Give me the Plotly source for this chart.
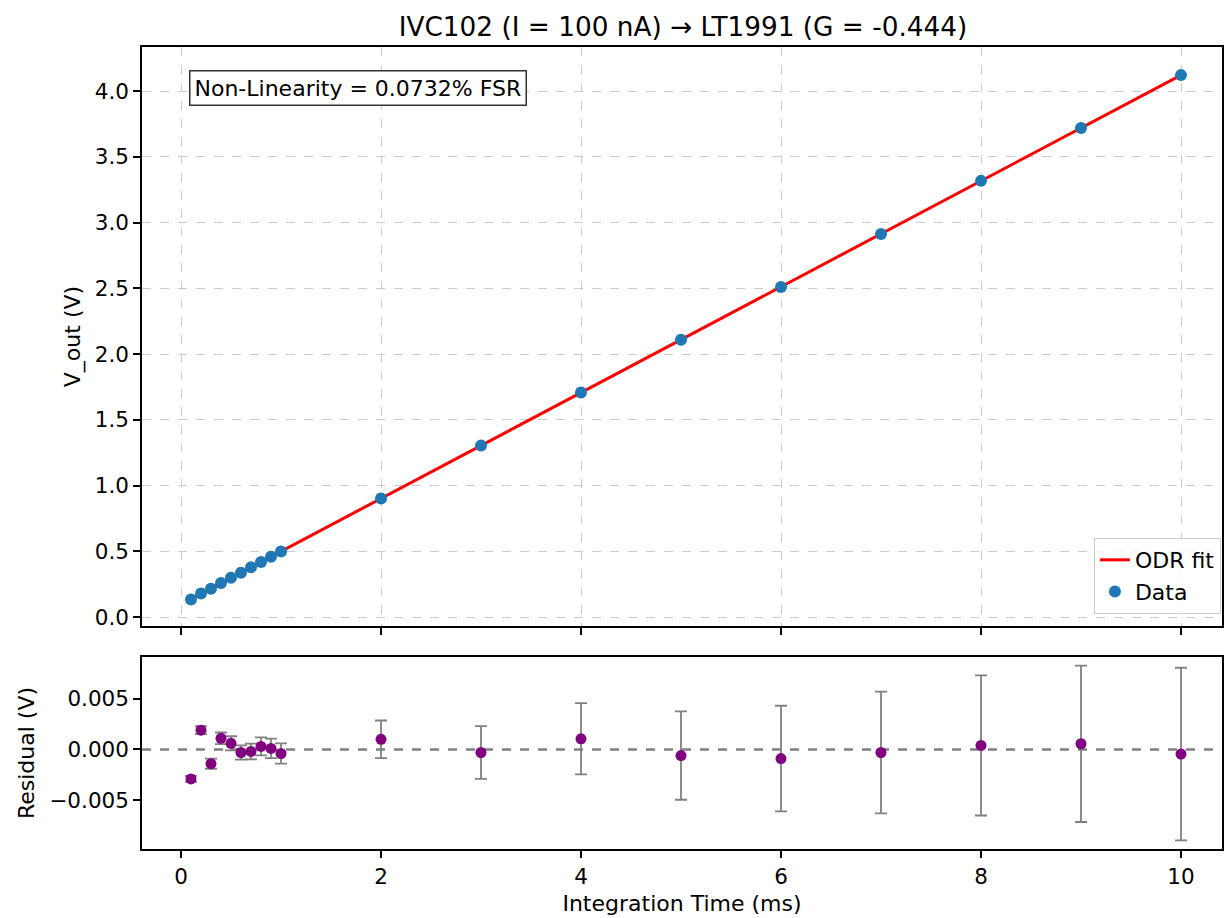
import plotly.graph_objects as go

# ---- data ----
t_ms = [0.1, 0.2, 0.3, 0.4, 0.5, 0.6, 0.7, 0.8, 0.9, 1.0, 2, 3, 4, 5, 6, 7, 8, 9, 10]
v_out = [0.1341, 0.1791, 0.2153, 0.2588, 0.2986, 0.3379, 0.3783, 0.4190, 0.4591, 0.4988,
         0.9027, 1.3039, 1.7077, 2.1086, 2.5108, 2.9139, 3.3171, 3.7198, 4.1212]
residual = [-0.0029, 0.0019, -0.0014, 0.0011, 0.0006, -0.0003, -0.0002, 0.0003, 0.0001, -0.0004,
            0.0010, -0.0003, 0.00105, -0.0006, -0.0009, -0.0003, 0.0004, 0.00056, -0.00046]
v_err = [0.0003, 0.0004, 0.0005, 0.00057, 0.0007, 0.0007, 0.00078, 0.00088, 0.00096, 0.001,
         0.00185, 0.0026, 0.0035, 0.00435, 0.0052, 0.006, 0.0069, 0.0077, 0.0085]
t_err = [0.02] * len(t_ms)
fit_t = [0.1, 10]
fit_v = [0.137, 4.1217]

title = "IVC102 (I = 100 nA) → LT1991 (G = -0.444)"
nl_text = "Non-Linearity = 0.0732% FSR"
main_yticks = [0.0, 0.5, 1.0, 1.5, 2.0, 2.5, 3.0, 3.5, 4.0]
res_yticks = [-0.005, 0.0, 0.005]
res_yticktext = ["\u22120.005", "0.000", "0.005"]
xticks = [0, 2, 4, 6, 8, 10]

FONT = "DejaVu Sans"
FS = 22
TFS = 21.5
GRAY = "#808080"

W, H = 1225, 918

fig = go.Figure()
fig.add_trace(go.Scatter(x=fit_t, y=fit_v, mode="lines", name="ODR fit",
                         line=dict(color="red", width=3), xaxis="x", yaxis="y"))
fig.add_trace(go.Scatter(x=t_ms, y=v_out, mode="markers", name="Data",
                         marker=dict(color="#1f77b4", size=12),
                         error_y=dict(type="data", array=v_err, color=GRAY, thickness=1.5, width=5),
                         error_x=dict(type="data", array=t_err, color=GRAY, thickness=1.5, width=5),
                         xaxis="x", yaxis="y"))
fig.add_trace(go.Scatter(x=t_ms, y=residual, mode="markers", showlegend=False,
                         marker=dict(color="purple", size=11),
                         error_y=dict(type="data", array=v_err, color=GRAY, thickness=1.8, width=6),
                         xaxis="x2", yaxis="y2"))

axis_common = dict(showline=True, linecolor="black", linewidth=1.5, mirror=True,
                   ticks="outside", ticklen=7, tickwidth=1.5, tickcolor="black",
                   tickfont=dict(family=FONT, size=TFS, color="black"), zeroline=False)
grid = dict(showgrid=True, gridcolor="#cccccc", griddash="dash", gridwidth=1)

fig.update_layout(
    width=W, height=H,
    margin=dict(l=142, r=1, t=47, b=69),
    paper_bgcolor="white", plot_bgcolor="white",
    font=dict(family=FONT, size=FS, color="black"),
    title=dict(text=title, x=683 / W, xanchor="center", y=1 - 27 / H, yanchor="middle",
               font=dict(family=FONT, size=26.3, color="black")),
    xaxis=dict(domain=[0, 1], anchor="y", range=[-0.39, 10.41], tickvals=xticks,
               showticklabels=False, **axis_common, **grid),
    yaxis=dict(domain=[0.278, 1], anchor="x", range=[-0.068, 4.335], tickvals=main_yticks,
               tickformat=".1f", title=dict(text="V_out (V)", standoff=8, font=dict(size=FS)),
               **axis_common, **grid),
    xaxis2=dict(domain=[0, 1], anchor="y2", range=[-0.39, 10.41], tickvals=xticks, matches="x",
                title=dict(text="Integration Time (ms)", standoff=8, font=dict(size=FS)),
                showgrid=False, **axis_common),
    yaxis2=dict(domain=[0, 0.2394], anchor="x2", range=[-0.0098, 0.0091],
                tickvals=res_yticks, ticktext=res_yticktext,
                title=dict(text="Residual (V)", standoff=9, font=dict(size=FS)),
                showgrid=False, **axis_common),
    legend=dict(x=0.999, y=0.293, xanchor="right", yanchor="bottom",
                bordercolor="#cccccc", borderwidth=1, bgcolor="rgba(255,255,255,0.8)",
                font=dict(family=FONT, size=FS), traceorder="normal"),
    shapes=[dict(type="line", xref="x2 domain", x0=0, x1=1, yref="y2", y0=0, y1=0,
                 line=dict(color=GRAY, width=2.5, dash="dash"), layer="below")],
    annotations=[dict(text=nl_text, xref="paper", yref="paper", x=0.0434, y=0.971,
                      xanchor="left", yanchor="top", showarrow=False,
                      font=dict(family=FONT, size=FS, color="black"),
                      bordercolor="#333333", borderwidth=1.5, borderpad=4, bgcolor="white")],
)

fig.write_html("out.html", config={"displayModeBar": False},
               post_script="document.body.style.margin='0';document.body.style.overflow='hidden';")
